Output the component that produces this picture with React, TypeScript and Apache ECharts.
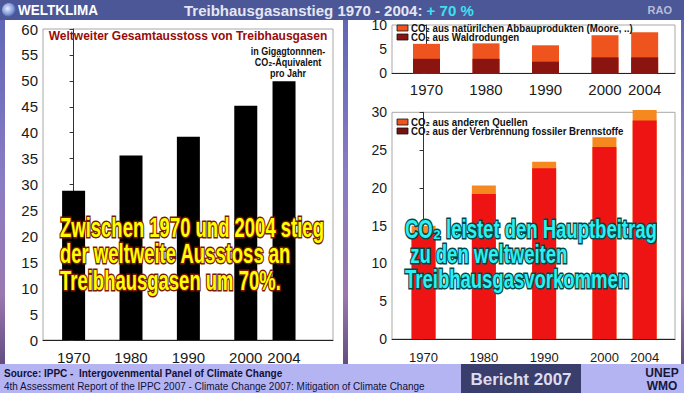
import React, { useEffect, useRef } from "react";
import * as echarts from "echarts";

// ---- data ----
const years = ["1970", "1980", "1990", "2000", "2004"];
const totalGhg = [28.8, 35.6, 39.2, 45.2, 49.9];
const co2Deforestation = [3.0, 3.0, 2.4, 3.3, 3.3];
const co2Decay = [3.1, 3.2, 3.4, 4.6, 5.2];
const co2Fossil = [14.0, 19.2, 22.6, 25.4, 28.9];
const co2Other = [1.0, 1.1, 0.85, 1.3, 1.4];

const nameDecay = "CO₂ aus natürilchen Abbauprodukten (Moore, ..)";
const nameDefor = "CO₂ aus Waldrodungen";
const nameOther = "CO₂ aus anderen Quellen";
const nameFossil = "CO₂ aus der Verbrennung fossiler Brennstoffe";

// layout: slot index of each year along the x axis (uneven spacing of the source)
const slotIndex = [0, 3, 6, 9, 11];

const FONT = "'Liberation Sans', Arial, sans-serif";

function xAxisFor(gridIndex: number, min: number, max: number, fontSize: number, margin: number) {
  return {
    type: "value",
    gridIndex,
    min,
    max,
    splitLine: { show: false },
    axisTick: { show: false },
    axisLine: { show: true, onZero: false, lineStyle: { color: "#222", width: 1 } },
    axisLabel: {
      customValues: slotIndex,
      formatter: (v: number) => years[slotIndex.indexOf(v)] ?? "",
      fontFamily: FONT,
      fontSize,
      color: "#1a1a1a",
      margin,
    },
  };
}

function yAxisFor(gridIndex: number, max: number, interval: number, fontSize: number) {
  return {
    type: "value",
    gridIndex,
    min: 0,
    max,
    interval,
    splitLine: { show: false },
    axisLine: { show: true, lineStyle: { color: "#333", width: 1 } },
    axisTick: { show: true, inside: false, length: 4, lineStyle: { color: "#333" } },
    axisLabel: { fontFamily: FONT, fontSize, color: "#1a1a1a", margin: 5 },
  };
}

const pts = (vals: number[]) => vals.map((v, i) => [slotIndex[i], v]);
// stacked upper segment drawn as full-height bar behind the lower one
const stackedPts = (lower: number[], upper: number[]) =>
  upper.map((v, i) => [slotIndex[i], +(lower[i] + v).toFixed(2)]);

function legendItem(x: number, y: number, color: string, label: string) {
  return [
    { type: "rect", z: 20, shape: { x, y: y - 3, width: 11, height: 6 }, style: { fill: color, stroke: "#111", lineWidth: 0.8 } },
    {
      type: "text", z: 20, x: x + 14, y, scaleX: 0.88,
      style: { text: label, font: `bold 11px ${FONT}`, fill: "#111", textVerticalAlign: "middle" },
    },
  ];
}

export default function App() {
  const ref = useRef<HTMLDivElement>(null);
  useEffect(() => {
    if (!ref.current) return;
    const chart = echarts.init(ref.current, undefined, { renderer: "svg" });
    const option: any = {
      animation: false,
      graphic: [
        // sky background
        {
          type: "rect",
          z: -100,
          shape: { x: 0, y: 0, width: 684, height: 393 },
          style: {
            fill: new echarts.graphic.LinearGradient(0, 0, 0, 1, [
              { offset: 0, color: "#5a64b4" },
              { offset: 0.45, color: "#8a7cc4" },
              { offset: 0.75, color: "#9a78b0" },
              { offset: 1, color: "#4c3c6c" },
            ]),
          },
        },
        // header
        { type: "rect", z: -90, shape: { x: 0, y: 0, width: 684, height: 20 }, style: { fill: "#4b5797" } },
        // panels
        { type: "rect", z: -90, shape: { x: 5, y: 20, width: 338, height: 344 }, style: { fill: "#ffffff" } },
        { type: "rect", z: -90, shape: { x: 348, y: 20, width: 333, height: 344 }, style: { fill: "#ffffff" } },
        // footer
        { type: "rect", z: -90, shape: { x: 0, y: 364, width: 684, height: 29 }, style: { fill: "#b4b4f2" } },
        { type: "rect", z: -89, shape: { x: 461, y: 364, width: 120, height: 29 }, style: { fill: "#3a3e6c" } },
        // globe icon
        {
          type: "circle",
          z: 10,
          shape: { cx: 9, cy: 10, r: 7 },
          style: {
            fill: new echarts.graphic.RadialGradient(0.4, 0.4, 0.7, [
              { offset: 0, color: "#e8eefc" },
              { offset: 0.6, color: "#7f96d8" },
              { offset: 1, color: "#2a3a80" },
            ]),
          },
        },
        // header texts
        {
          type: "text", z: 10, x: 18, y: 10, scaleX: 0.9,
          style: { text: "WELTKLIMA", font: `bold 15px ${FONT}`, fill: "#ffffff", textVerticalAlign: "middle" },
        },
        {
          type: "text", z: 10, x: 184, y: 10,
          style: {
            text: "{a|Treibhausgasanstieg 1970 - 2004: }{b|+ 70 %}",
            textVerticalAlign: "middle",
            rich: {
              a: { fontSize: 15, fontWeight: "bold", fontFamily: FONT, fill: "#e6e6f2" },
              b: { fontSize: 15, fontWeight: "bold", fontFamily: FONT, fill: "#3ee0f0" },
            },
          },
        },
        {
          type: "text", z: 10, x: 672, y: 10,
          style: { text: "RAO", font: `bold 11px ${FONT}`, fill: "#b8bcd8", textAlign: "right", textVerticalAlign: "middle" },
        },
        // left chart title
        {
          type: "text", z: 10, x: 188, y: 36,
          style: { text: "Weltweiter Gesamtausstoss von Treibhausgasen", font: `bold 12px ${FONT}`, fill: "#9a0a0a", textAlign: "center", textVerticalAlign: "middle" },
        },
        {
          type: "text", z: 10, x: 288, y: 62, scaleX: 0.82,
          style: {
            text: "in Gigagtonnnen-\nCO₂-Äquivalent\npro Jahr",
            font: `bold 11px ${FONT}`, fill: "#111", textAlign: "center", textVerticalAlign: "middle", lineHeight: 11,
          },
        },
        // legends
        ...legendItem(397, 28, "#f0541e", nameDecay),
        ...legendItem(397, 37, "#8a1410", nameDefor),
        ...legendItem(397, 122, "#f0541e", nameOther),
        ...legendItem(397, 131, "#7a1010", nameFossil),
        // overlay statements
        {
          type: "text", z: 50, x: 60, y: 254, scaleX: 0.66,
          style: {
            text: "Zwischen 1970 und 2004 stieg\nder weltweite Ausstoss an\nTreibhausgasen um 70%.",
            font: `bold 28px ${FONT}`, fill: "#ffff00", stroke: "#7a1800", lineWidth: 3, strokeFirst: true,
            textVerticalAlign: "middle", lineHeight: 26.5,
          },
        },
        {
          type: "text", z: 50, x: 405, y: 254, scaleX: 0.74,
          style: {
            text: "CO₂ leistet den Hauptbeitrag\n zu den weltweiten\nTreibhausgasvorkommen",
            font: `bold 25px ${FONT}`, fill: "#2ef0f0", stroke: "#00474a", lineWidth: 3, strokeFirst: true,
            textVerticalAlign: "middle", lineHeight: 25,
          },
        },
        // footer texts
        {
          type: "text", z: 10, x: 4, y: 373, scaleX: 0.91,
          style: { text: "Source: IPPC -  Intergovenmental Panel of Climate Change", font: `bold 11px ${FONT}`, fill: "#10103a", textVerticalAlign: "middle" },
        },
        {
          type: "text", z: 10, x: 4, y: 386, scaleX: 0.95,
          style: { text: "4th Assessment Report of the IPPC 2007 - Climate Change 2007: Mitigation of Climate Change", font: `10.5px ${FONT}`, fill: "#10103a", textVerticalAlign: "middle" },
        },
        {
          type: "text", z: 10, x: 521, y: 379,
          style: { text: "Bericht 2007", font: `bold 17px ${FONT}`, fill: "#dcdcee", textAlign: "center", textVerticalAlign: "middle" },
        },
        {
          type: "text", z: 10, x: 662, y: 373,
          style: { text: "UNEP", font: `bold 12px ${FONT}`, fill: "#16163a", textAlign: "center", textVerticalAlign: "middle" },
        },
        {
          type: "text", z: 10, x: 662, y: 386,
          style: { text: "WMO", font: `bold 12px ${FONT}`, fill: "#16163a", textAlign: "center", textVerticalAlign: "middle" },
        },
      ],
      grid: [
        { left: 43, top: 29, width: 290, height: 311, show: true, borderColor: "#a8a8a8", borderWidth: 1 },
        { left: 392, top: 25, width: 283, height: 48.3, show: true, borderColor: "#a8a8a8", borderWidth: 1 },
        { left: 392, top: 112.3, width: 283, height: 226.7, show: true, borderColor: "#a8a8a8", borderWidth: 1 },
      ],
      xAxis: [
        xAxisFor(0, -1.6, 13.56, 15, 10),
        xAxisFor(1, -1.74, 12.53, 15, 9),
        xAxisFor(2, -1.57, 12.51, 13, 12),
      ],
      yAxis: [yAxisFor(0, 60, 5, 15), yAxisFor(1, 10, 5, 14), yAxisFor(2, 30, 5, 14)],
      series: [
        {
          name: "Treibhausgase gesamt", type: "bar", xAxisIndex: 0, yAxisIndex: 0,
          barWidth: 23, data: pts(totalGhg), itemStyle: { color: "#000" },
        },
        {
          name: nameDecay, type: "bar", xAxisIndex: 1, yAxisIndex: 1, z: 2,
          barWidth: 27, barGap: "-100%", data: stackedPts(co2Deforestation, co2Decay), itemStyle: { color: "#f0541e" },
        },
        {
          name: nameDefor, type: "bar", xAxisIndex: 1, yAxisIndex: 1, z: 3,
          barWidth: 27, barGap: "-100%", data: pts(co2Deforestation), itemStyle: { color: "#8a1410" },
        },
        {
          name: nameOther, type: "bar", xAxisIndex: 2, yAxisIndex: 2, clip: false, z: 2,
          barWidth: 24, barGap: "-100%", data: stackedPts(co2Fossil, co2Other), itemStyle: { color: "#f5881f" },
        },
        {
          name: nameFossil, type: "bar", xAxisIndex: 2, yAxisIndex: 2, clip: false, z: 3,
          barWidth: 24, barGap: "-100%", data: pts(co2Fossil), itemStyle: { color: "#ee1414" },
        },
      ],
    };
    chart.setOption(option);
    return () => chart.dispose();
  }, []);
  return (
    <div
      ref={ref}
      style={{ position: "absolute", left: 0, top: 0, width: 684, height: 393 }}
    />
  );
}
